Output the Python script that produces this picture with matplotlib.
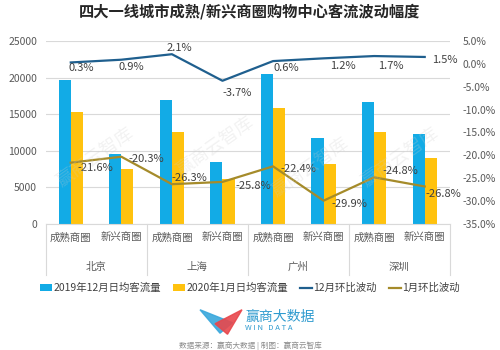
import numpy as np
import matplotlib
matplotlib.use('Agg')
import matplotlib.pyplot as plt
from matplotlib.patches import Polygon

plt.rcParams['font.family'] = ['Noto Sans CJK SC', 'DejaVu Sans']

cities = ['北京', '上海', '广州', '深圳']
areas = ['成熟商圈', '新兴商圈'] * 4
dec_flow = [19700, 9500, 17000, 8500, 20500, 11700, 16700, 12300]
jan_flow = [15300, 7500, 12500, 6200, 15900, 8200, 12500, 9000]
dec_chg = [0.3, 0.9, 2.1, -3.7, 0.6, 1.2, 1.7, 1.5]
jan_chg = [-21.6, -20.3, -26.3, -25.8, -22.4, -29.9, -24.8, -26.8]

blue = '#12ABE6'
yellow = '#FFC20E'
dblue = '#1F5F8E'
olive = '#A58B2A'
gray = '#595959'
fs = 7.5

fig = plt.figure(figsize=(5, 3.5), dpi=100)
ax = fig.add_axes([0.091, 0.36, 0.809, 0.523])
ax2 = ax.twinx()

x = np.arange(len(areas))
w = 0.24
ax.bar(x - w / 2, dec_flow, w, color=blue, label='2019年12月日均客流量', zorder=2)
ax.bar(x + w / 2, jan_flow, w, color=yellow, label='2020年1月日均客流量', zorder=2)
ax.set_ylim(0, 25000)
ax.set_yticks(range(0, 25001, 5000))
ax.set_xlim(-0.5, 7.5)
ax.grid(axis='y', color='#D9D9D9', lw=0.8, zorder=0)
ax.set_axisbelow(True)
for s in ['top', 'right', 'left']:
    ax.spines[s].set_visible(False)
    ax2.spines[s].set_visible(False)
ax2.spines['bottom'].set_visible(False)
ax.spines['bottom'].set_color('#D9D9D9')
ax.tick_params(axis='y', length=0, labelsize=fs, labelcolor=gray, pad=6)
ax.set_xticks(x)
ax.set_xticklabels(areas, fontsize=fs, color=gray)
ax.tick_params(axis='x', length=0, pad=6)

l1, = ax2.plot(x, dec_chg, color=dblue, lw=1.6, label='12月环比波动')
l2, = ax2.plot(x, jan_chg, color=olive, lw=1.6, label='1月环比波动')
ax2.set_ylim(-35, 5)
ax2.set_yticks(range(-35, 6, 5))
ax2.set_yticklabels(['%.1f%%' % v for v in range(-35, 6, 5)])
ax2.tick_params(axis='y', length=0, labelsize=fs, labelcolor=gray, pad=9)

# label offsets in pixels (left edge, vertical)
dec_off = [(-2, -6), (-3, -7), (-5, 6), (0, -12), (0, -7), (6, -8), (4, -10), (7, -3)]
for i, v in enumerate(dec_chg):
    ax2.annotate('%.1f%%' % v, (x[i], v), xytext=(dec_off[i][0] * 0.72, dec_off[i][1] * 0.72),
                 textcoords='offset points', ha='left', va='center', fontsize=8, color='#404040')
jan_off = [(7, -5), (7, -2), (0, 6), (13, -4), (7, -3), (8, -3), (8, 6), (1, -8)]
for i, v in enumerate(jan_chg):
    ax2.annotate('%.1f%%' % v, (x[i], v), xytext=(jan_off[i][0] * 0.72, jan_off[i][1] * 0.72),
                 textcoords='offset points', ha='left', va='center', fontsize=8, color='#404040')

# city labels and separators
for i, c in enumerate(cities):
    ax.text(2 * i + 0.5, -0.235, c, transform=ax.get_xaxis_transform(),
            ha='center', va='center', fontsize=fs, color=gray)
for b in [-0.5, 1.5, 3.5, 5.5, 7.5]:
    ax.plot([b, b], [0, -0.28], transform=ax.get_xaxis_transform(),
            color='#D9D9D9', lw=0.8, clip_on=False)

# watermark
for wx, wy in [(0.19, 0.55), (0.43, 0.58), (0.62, 0.52), (0.80, 0.55)]:
    fig.text(wx, wy, '赢商云智库', rotation=35, fontsize=13, color='#CCCCCC',
             alpha=0.25, ha='center', va='center')

h1, lab1 = ax.get_legend_handles_labels()
fig.legend(h1 + [l1, l2], lab1 + ['12月环比波动', '1月环比波动'],
           loc='center', bbox_to_anchor=(0.5, 0.177), ncol=4, frameon=False,
           fontsize=fs, handlelength=1.1, handletextpad=0.15, columnspacing=1.2,
           labelcolor='#404040')

fig.text(0.5, 0.968, '四大一线城市成熟/新兴商圈购物中心客流波动幅度',
         ha='center', va='center', fontsize=11, fontweight='bold', color='#262626')

# logo
fig.patches.append(Polygon([[0.40, 0.115], [0.465, 0.078], [0.44, 0.048]], closed=True,
                           transform=fig.transFigure, color='#3AA8DC', alpha=0.9))
fig.patches.append(Polygon([[0.43, 0.075], [0.484, 0.115], [0.455, 0.045]], closed=True,
                           transform=fig.transFigure, color='#E8474C', alpha=0.9))
fig.text(0.49, 0.094, '赢商大数据', ha='left', va='center', fontsize=10, color='#2F9BCF')
fig.text(0.49, 0.062, 'W I N   D A T A', ha='left', va='center', fontsize=5.5, color='#2F9BCF')
fig.text(0.5, 0.012, '数据来源：赢商大数据 | 制图：赢商云智库', ha='center', va='center',
         fontsize=5.5, color='#8C8C8C')

fig.savefig('out.png', dpi=100)
